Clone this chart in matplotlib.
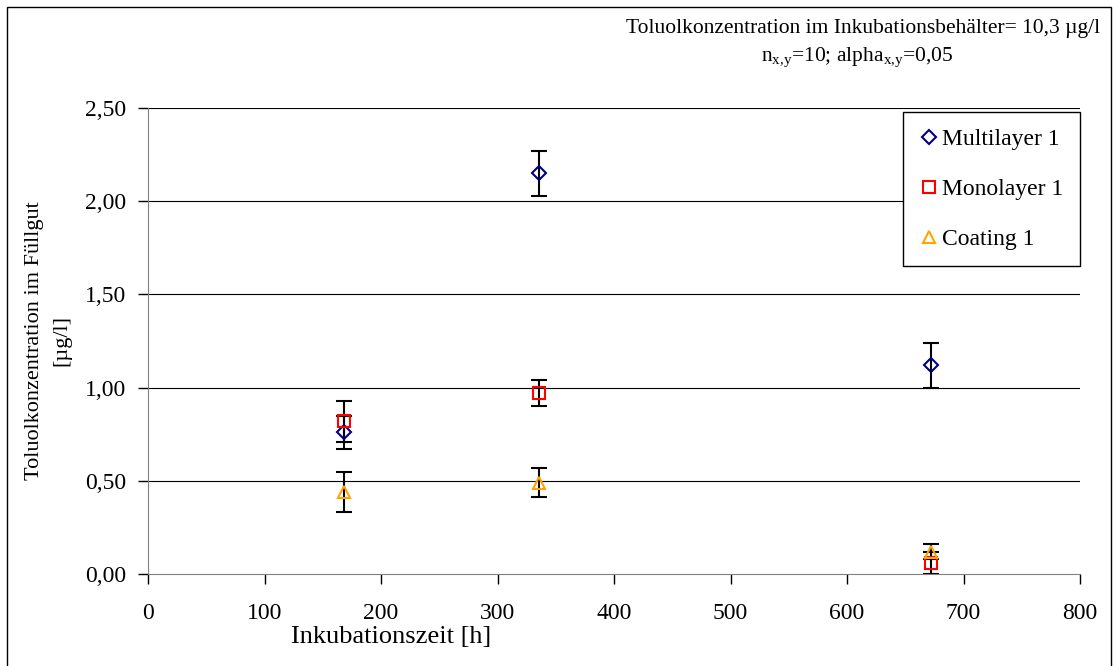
import matplotlib
import matplotlib.pyplot as plt
from matplotlib.patches import Rectangle

matplotlib.rcParams['font.family'] = ['Liberation Serif', 'DejaVu Serif']
matplotlib.rcParams['mathtext.fontset'] = 'custom'
matplotlib.rcParams['mathtext.rm'] = 'Liberation Serif'
f_size = 17

# data
series_names = ['Multilayer 1', 'Monolayer 1', 'Coating 1']
hours = [168, 336, 672]
multilayer = [0.76, 2.15, 1.12]
multilayer_err = [0.09, 0.12, 0.12]
monolayer = [0.82, 0.97, 0.06]
monolayer_err = [0.11, 0.07, 0.06]
coating = [0.44, 0.49, 0.12]
coating_err = [0.105, 0.077, 0.04]

yticks = [0, 0.5, 1.0, 1.5, 2.0, 2.5]
ytick_labels = ['0,00', '0,50', '1,00', '1,50', '2,00', '2,50']
xticks = [0, 100, 200, 300, 400, 500, 600, 700, 800]

fig = plt.figure(figsize=(11.13, 6.66), dpi=100)
ax = fig.add_axes([148/1113, 92/666, 932/1113, 466/666])

# outer frame of the chart
fig.patches.append(Rectangle((7/1113, -5/666), 1104/1113, 664/666, transform=fig.transFigure,
                             fill=False, edgecolor='black', lw=1.0))

# horizontal grid
for y in yticks[1:]:
    ax.axhline(y, color='black', lw=0.8, zorder=0)

styles = [('D', '#000080', multilayer, multilayer_err, 7),
          ('s', '#FF0000', monolayer, monolayer_err, 8),
          ('^', '#FFA500', coating, coating_err, 9)]
for name, (m, c, vals, err, ms) in zip(series_names, styles):
    ax.errorbar(hours, vals, yerr=err, fmt='none', ecolor='black', elinewidth=1.5,
                capsize=5.5, capthick=1.5, zorder=2)
    ax.plot(hours, vals, linestyle='none', marker=m, markersize=ms, markerfacecolor='none',
            markeredgecolor=c, markeredgewidth=1.5, label=name, zorder=3)

ax.set_xlim(0, 800)
ax.set_ylim(0, 2.5)
ax.set_xticks(xticks)
ax.set_xticklabels([str(x) for x in xticks], fontsize=f_size)
ax.set_yticks(yticks)
ax.set_yticklabels(ytick_labels, fontsize=f_size)
ax.tick_params(direction='out', length=7, width=1, colors='black')
ax.tick_params(axis='x', pad=14)
ax.tick_params(axis='y', pad=9)
ax.spines['top'].set_visible(False)
ax.spines['right'].set_visible(False)
ax.spines['left'].set_color('#808080')
ax.spines['bottom'].set_color('#808080')

ax.set_xlabel('Inkubationszeit [h]', fontsize=19)
ax.xaxis.set_label_coords(0.261, -0.112)
ax.set_ylabel('Toluolkonzentration im Füllgut\n[µg/l]', fontsize=16, linespacing=1.6)
ax.yaxis.set_label_coords(-0.082, 0.5)

leg = ax.legend(loc='upper right', bbox_to_anchor=(1.0, 0.991), borderaxespad=0, fontsize=17,
                frameon=True, fancybox=False, edgecolor='black', framealpha=1,
                handletextpad=0.15, handlelength=0.8, labelspacing=1.2, borderpad=0.7)
leg.get_frame().set_linewidth(1.0)

fig.text(1100/1113, 1 - 28/666, 'Toluolkonzentration im Inkubationsbehälter= 10,3 µg/l',
         ha='right', va='center', fontsize=15.5)
fig.text(857/1113, 1 - 58/666, r'n$_{\mathrm{x{,}y}}$=10; alpha$_{\mathrm{x{,}y}}$=0,05',
         ha='center', va='center', fontsize=15.5)

fig.savefig('out.png', dpi=100)
